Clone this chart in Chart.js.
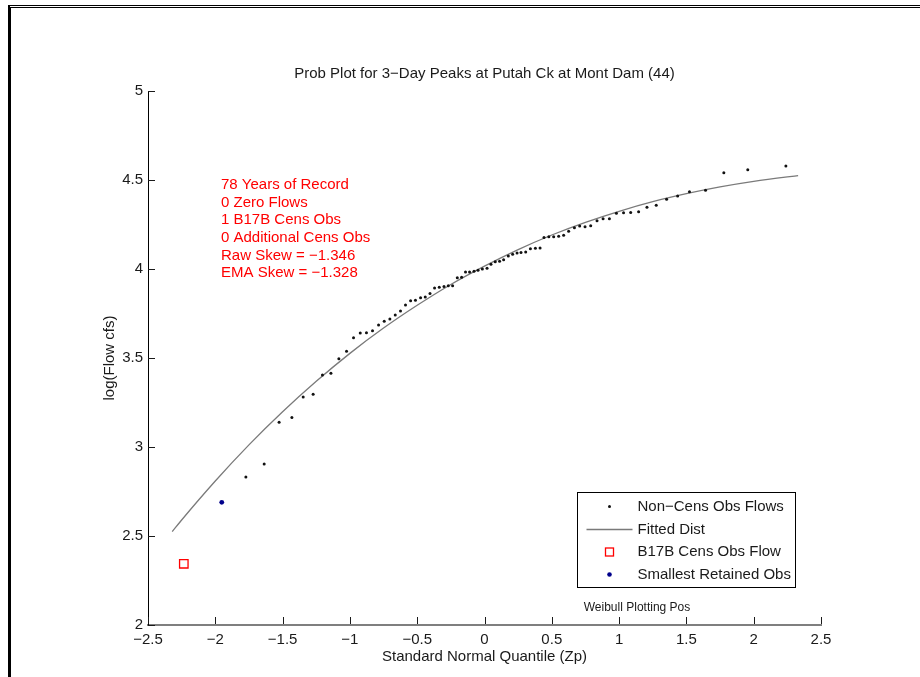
<!DOCTYPE html>
<html>
<head>
<meta charset="utf-8">
<title>Prob Plot for 3-Day Peaks at Putah Ck at Mont Dam (44)</title>
<script src="https://cdn.jsdelivr.net/npm/chart.js@4.4.1/dist/chart.umd.min.js"></script>
<style>
  html, body { margin: 0; padding: 0; background: #fff; }
  #page { position: relative; width: 920px; height: 677px; overflow: hidden; }
  #frame { position: absolute; left: 8px; top: 5px; right: -10px; bottom: -10px;
           border-top: 3px double #000; border-left: 3px solid #000; }
  #probPlot { position: absolute; left: 0; top: 0; }
</style>
</head>
<body>
<div id="page">
  <div id="frame"></div>
  <canvas id="probPlot" width="920" height="677"></canvas>
</div>
<script>
// Non-censored annual 3-day peaks (Weibull plotting positions, log10 cfs)
const obsZ = [-1.773, -1.637, -1.526, -1.431, -1.347, -1.273, -1.204, -1.141, -1.082, -1.025,
    -0.973, -0.923, -0.877, -0.832, -0.787, -0.745, -0.703, -0.663, -0.624, -0.587,
    -0.549, -0.513, -0.475, -0.440, -0.405, -0.371, -0.336, -0.301, -0.269, -0.237,
    -0.202, -0.170, -0.141, -0.111, -0.078, -0.048, -0.016, 0.019, 0.048, 0.080,
    0.112, 0.142, 0.177, 0.209, 0.242, 0.271, 0.306, 0.341, 0.378, 0.413,
    0.442, 0.478, 0.514, 0.551, 0.588, 0.625, 0.668, 0.707, 0.747, 0.789,
    0.836, 0.881, 0.928, 0.980, 1.033, 1.086, 1.145, 1.207, 1.276, 1.353,
    1.435, 1.523, 1.642, 1.778, 1.956, 2.239];
const obsLogQ = [2.831, 2.904, 3.139, 3.166, 3.281, 3.296, 3.404, 3.414, 3.496, 3.538,
    3.614, 3.640, 3.642, 3.653, 3.685, 3.706, 3.719, 3.742, 3.764, 3.798,
    3.822, 3.824, 3.839, 3.843, 3.863, 3.893, 3.897, 3.901, 3.906, 3.906,
    3.951, 3.953, 3.983, 3.983, 3.987, 3.993, 4.000, 4.004, 4.026, 4.041,
    4.043, 4.052, 4.073, 4.083, 4.090, 4.092, 4.096, 4.114, 4.116, 4.118,
    4.177, 4.181, 4.181, 4.184, 4.190, 4.212, 4.232, 4.242, 4.238, 4.243,
    4.271, 4.283, 4.283, 4.313, 4.316, 4.317, 4.322, 4.347, 4.358, 4.392,
    4.410, 4.434, 4.442, 4.541, 4.558, 4.579];

// fitted distribution curve
const fitZ = [-2.32, -2.25, -2.0, -1.75, -1.5, -1.25, -1.0, -0.75, -0.5, -0.25, 0,
    0.25, 0.5, 0.75, 1.0, 1.25, 1.5, 1.75, 2.0, 2.25, 2.33];
const fitLogQ = [2.525, 2.590, 2.809, 3.012, 3.198, 3.369, 3.526, 3.668, 3.796, 3.913, 4.016,
    4.109, 4.191, 4.262, 4.324, 4.378, 4.423, 4.461, 4.492, 4.517, 4.524];

// B17B censored low outlier and smallest retained observation
const censZ = [-2.234];
const censLogQ = [2.344];
const smallestZ = [-1.952];
const smallestLogQ = [2.689];

const xTickValues = [-2.5, -2, -1.5, -1, -0.5, 0, 0.5, 1, 1.5, 2, 2.5];
const yTickValues = [2, 2.5, 3, 3.5, 4, 4.5, 5];

const statLines = [
    '78 Years of Record',
    '0 Zero Flows',
    '1 B17B Cens Obs',
    '0 Additional Cens Obs',
    'Raw Skew = \u22121.346',
    'EMA Skew = \u22121.328',
];

const titleText = 'Prob Plot for 3\u2212Day Peaks at Putah Ck at Mont Dam (44)';
const xTitle = 'Standard Normal Quantile (Zp)';
const yTitle = 'log(Flow cfs)';
const noteText = 'Weibull Plotting Pos';
const legendLabels = ['Non\u2212Cens Obs Flows', 'Fitted Dist', 'B17B Cens Obs Flow', 'Smallest Retained Obs'];

const family = '"Liberation Sans", Arial, Helvetica, sans-serif';
const ink = '#1a1a1a';
const dotColor = '#111';
const fitColor = '#7a7a7a';
const censColor = '#ff0000';
const smallColor = '#00008b';

Chart.defaults.font.family = family;

function toPoints(xs, ys) {
    return xs.map((x, i) => ({ x: x, y: ys[i] }));
}

function fmtTick(v) {
    return String(v).replace('-', '\u2212');
}

// MATLAB style ticks pointing into the axes
const inwardTicks = {
    id: 'inwardTicks',
    afterDraw(chart) {
        const { ctx, chartArea: ca, scales } = chart;
        ctx.save();
        ctx.strokeStyle = ink;
        ctx.lineWidth = 1;
        ctx.beginPath();
        scales.x.ticks.forEach((t) => {
            const px = Math.round(scales.x.getPixelForValue(t.value)) + 0.5;
            ctx.moveTo(px, ca.bottom - 1);
            ctx.lineTo(px, ca.bottom - 8);
        });
        scales.y.ticks.forEach((t) => {
            const py = Math.round(scales.y.getPixelForValue(t.value)) + 0.5;
            ctx.moveTo(ca.left, py);
            ctx.lineTo(ca.left + 7, py);
        });
        ctx.stroke();
        ctx.restore();
    }
};

// title, axis titles, stats block, legend box
const plotText = {
    id: 'plotText',
    afterDraw(chart) {
        const { ctx, chartArea: ca } = chart;
        const cx = (ca.left + ca.right) / 2;
        ctx.save();
        ctx.fillStyle = ink;
        ctx.font = '15px ' + family;
        ctx.textAlign = 'center';
        ctx.textBaseline = 'middle';
        ctx.fillText(titleText, cx, ca.top - 17);
        ctx.fillText(xTitle, cx, ca.bottom + 32);

        ctx.save();
        ctx.translate(ca.left - 38, (ca.top + ca.bottom) / 2);
        ctx.rotate(-Math.PI / 2);
        ctx.fillText(yTitle, 0, 0);
        ctx.restore();

        ctx.font = '12px ' + family;
        ctx.fillText(noteText, ca.right - 184, ca.bottom - 17);

        // stats
        ctx.fillStyle = censColor;
        ctx.font = '15px ' + family;
        ctx.textAlign = 'left';
        statLines.forEach((line, i) => {
            ctx.fillText(line, ca.left + 73, ca.top + 94 + i * 17.6);
        });

        // legend
        const bx = ca.right - 243.5, by = ca.bottom - 132.5, bw = 218, bh = 95;
        ctx.fillStyle = '#fff';
        ctx.fillRect(bx, by, bw, bh);
        ctx.strokeStyle = '#000';
        ctx.lineWidth = 1;
        ctx.strokeRect(bx, by, bw, bh);

        const mx = bx + 32;
        const tx = bx + 60;
        const rows = [by + 14, by + 37, by + 59.5, by + 82];
        ctx.fillStyle = ink;
        ctx.textAlign = 'left';
        legendLabels.forEach((label, i) => ctx.fillText(label, tx, rows[i]));

        ctx.fillStyle = dotColor;
        ctx.beginPath();
        ctx.arc(mx, rows[0], 1.5, 0, Math.PI * 2);
        ctx.fill();

        ctx.strokeStyle = fitColor;
        ctx.lineWidth = 1.3;
        ctx.beginPath();
        ctx.moveTo(bx + 9, rows[1]);
        ctx.lineTo(bx + 55, rows[1]);
        ctx.stroke();

        ctx.strokeStyle = censColor;
        ctx.lineWidth = 1.3;
        ctx.strokeRect(mx - 4, rows[2] - 4, 8, 8);

        ctx.fillStyle = smallColor;
        ctx.beginPath();
        ctx.arc(mx, rows[3], 2.3, 0, Math.PI * 2);
        ctx.fill();
        ctx.restore();
    }
};

const ctx = document.getElementById('probPlot');

new Chart(ctx, {
    type: 'scatter',
    data: {
        datasets: [
            {
                label: legendLabels[3],
                data: toPoints(smallestZ, smallestLogQ),
                pointRadius: 2.4,
                pointBackgroundColor: smallColor,
                pointBorderWidth: 0,
                order: 0,
            },
            {
                label: legendLabels[2],
                data: toPoints(censZ, censLogQ),
                pointStyle: 'rect',
                pointRadius: 6,
                pointBorderColor: censColor,
                pointBackgroundColor: 'rgba(255,255,255,0)',
                pointBorderWidth: 1.3,
                order: 1,
            },
            {
                label: legendLabels[0],
                data: toPoints(obsZ, obsLogQ),
                pointRadius: 1.5,
                pointBackgroundColor: dotColor,
                pointBorderWidth: 0,
                order: 2,
            },
            {
                label: legendLabels[1],
                data: toPoints(fitZ, fitLogQ),
                showLine: true,
                borderColor: fitColor,
                borderWidth: 1.3,
                cubicInterpolationMode: 'monotone',
                pointRadius: 0,
                order: 3,
            },
        ]
    },
    options: {
        responsive: false,
        animation: false,
        layout: {
            padding: { left: 0, right: 99, top: 91, bottom: 0 }
        },
        plugins: {
            legend: { display: false },
            tooltip: { enabled: false },
        },
        scales: {
            x: {
                type: 'linear',
                min: -2.5,
                max: 2.5,
                afterBuildTicks: (scale) => {
                    scale.ticks = xTickValues.map((v) => ({ value: v }));
                },
                afterFit: (scale) => {
                    scale.height = 52;
                },
                grid: { drawOnChartArea: false, drawTicks: false },
                border: { display: true, color: '#7f7f7f', width: 2 },
                ticks: {
                    autoSkip: false,
                    maxRotation: 0,
                    padding: 6,
                    color: ink,
                    font: { size: 15 },
                    callback: (v) => fmtTick(v),
                },
            },
            y: {
                type: 'linear',
                min: 2,
                max: 5,
                afterBuildTicks: (scale) => {
                    scale.ticks = yTickValues.map((v) => ({ value: v }));
                },
                afterFit: (scale) => {
                    scale.width = 148;
                },
                grid: { drawOnChartArea: false, drawTicks: false },
                border: { display: true, color: '#000', width: 1 },
                ticks: {
                    padding: 5,
                    color: ink,
                    font: { size: 15 },
                    callback: (v) => fmtTick(v),
                },
            },
        },
    },
    plugins: [inwardTicks, plotText],
});
</script>
</body>
</html>
